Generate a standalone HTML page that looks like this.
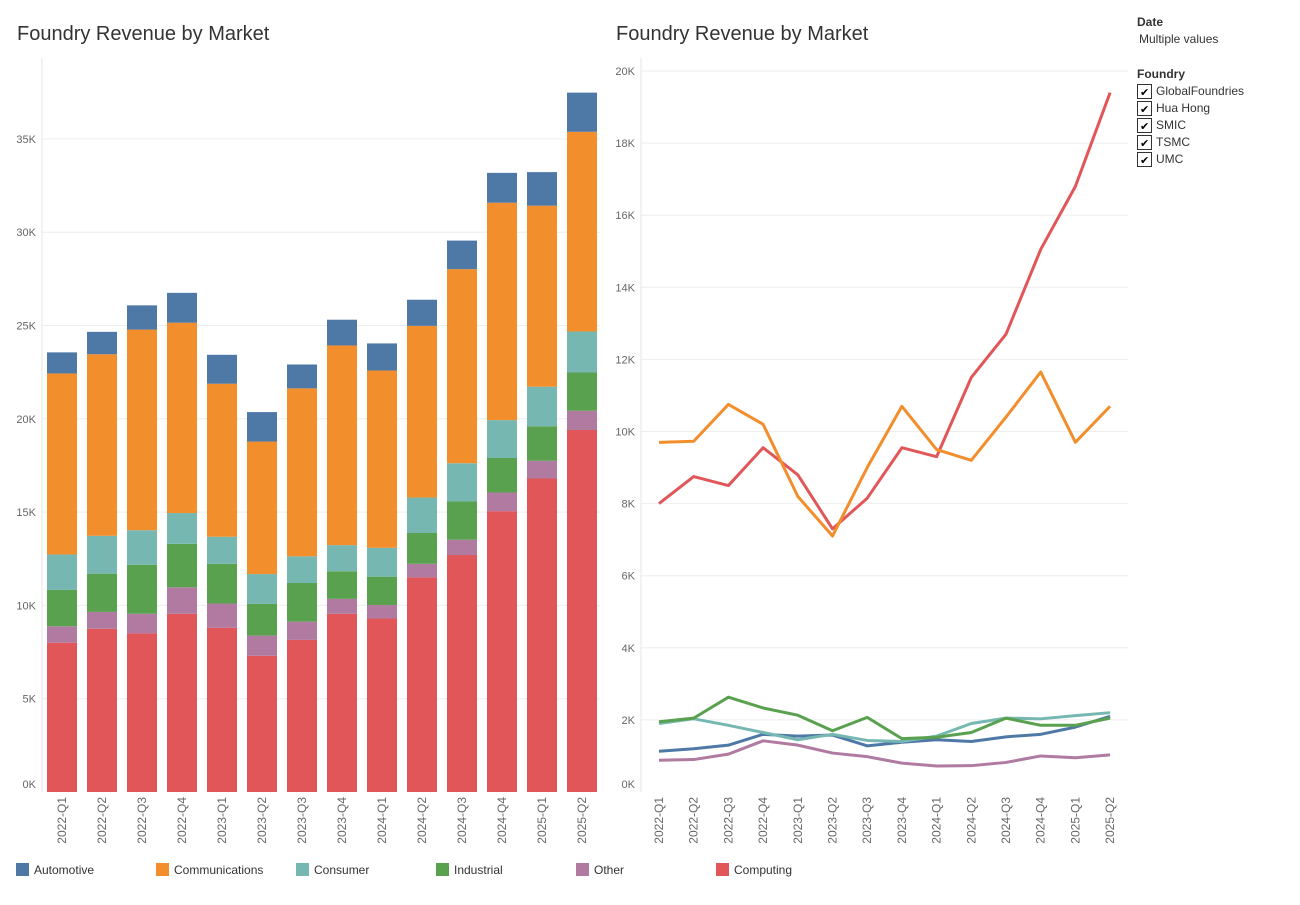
<!DOCTYPE html>
<html><head><meta charset="utf-8"><style>
body{margin:0;background:#fff;font-family:"Liberation Sans",sans-serif;}
svg text{font-family:"Liberation Sans",sans-serif;}
</style></head><body>
<svg id="c" width="1300" height="900" xmlns="http://www.w3.org/2000/svg">
<text x="17" y="40" font-size="20" fill="#333">Foundry Revenue by Market</text>
<text x="616" y="40" font-size="20" fill="#333">Foundry Revenue by Market</text>
<g>
<text x="1137" y="26" font-size="12" font-weight="bold" fill="#333">Date</text>
<text x="1139" y="43" font-size="12" fill="#333">Multiple values</text></g>
<text x="1137" y="78" font-size="12" font-weight="bold" fill="#333">Foundry</text>
<g id="left"></g><g id="right"></g><g id="filters"></g><g id="legend"></g>
</svg>
<script>
const quarters=["2022-Q1","2022-Q2","2022-Q3","2022-Q4","2023-Q1","2023-Q2","2023-Q3","2023-Q4","2024-Q1","2024-Q2","2024-Q3","2024-Q4","2025-Q1","2025-Q2"];
const computing=[8000,8750,8500,9550,8800,7300,8150,9550,9300,11500,12700,15050,16800,19400];
const other=[880,900,1050,1420,1300,1080,980,800,720,730,820,1000,950,1030];
const industrial=[1950,2050,2630,2330,2130,1700,2070,1480,1520,1650,2050,1850,1850,2050];
const consumer=[1900,2030,1850,1650,1450,1600,1430,1400,1550,1900,2050,2030,2120,2200];
const communications=[9700,9730,10750,10200,8200,7100,9000,10700,9500,9200,10400,11650,9700,10700];
const automotive=[1130,1200,1300,1600,1550,1580,1280,1380,1450,1400,1530,1600,1800,2100];
const leftTicks=[0,5000,10000,15000,20000,25000,30000,35000];
const rightTicks=[0,2000,4000,6000,8000,10000,12000,14000,16000,18000,20000];
const foundries=["GlobalFoundries","Hua Hong","SMIC","TSMC","UMC"];
const NS="http://www.w3.org/2000/svg";
function mk(t,a,p,txt){const e=document.createElementNS(NS,t);for(const k in a)e.setAttribute(k,a[k]);if(txt!==undefined)e.textContent=txt;p.appendChild(e);return e;}
const series=[
 {n:"Computing",d:computing,c:"#e15759"},
 {n:"Other",d:other,c:"#b07aa1"},
 {n:"Industrial",d:industrial,c:"#59a14f"},
 {n:"Consumer",d:consumer,c:"#76b7b2"},
 {n:"Communications",d:communications,c:"#f28e2b"},
 {n:"Automotive",d:automotive,c:"#4e79a7"}];
// left
const L=document.getElementById('left');
const ly=v=>792-v*93.3/5000, lx=i=>62+i*40;
leftTicks.forEach(t=>{const y=ly(t);
 if(t>0){const g=mk('line',{x1:42,x2:600,y1:y,y2:y,stroke:'#eee'},L);}
 const tx=mk('text',{x:36,y:t===0?y-4:y+4,'font-size':11,fill:'#666','text-anchor':'end'},L,(t/1000)+'K');
 });
mk('line',{x1:42,x2:42,y1:58,y2:792,stroke:'#e6e6e6'},L);
quarters.forEach((q,i)=>{let acc=0;
 series.forEach(s=>{const v=s.d[i];const r=mk('rect',{x:lx(i)-15,y:ly(acc+v),width:30,height:ly(acc)-ly(acc+v),fill:s.c},L);
  acc+=v;});
 const t=mk('text',{x:0,y:0,'font-size':12,fill:'#666','text-anchor':'end',transform:`translate(${lx(i)+4},797) rotate(-90)`},L,q);
 });
// right
const R=document.getElementById('right');
const ry=v=>792-v*0.03605, rx=i=>659+i*34.7;
rightTicks.forEach(t=>{const y=ry(t);
 if(t>0){const g=mk('line',{x1:641,x2:1128,y1:y,y2:y,stroke:'#eee'},R);}
 const tx=mk('text',{x:635,y:t===0?y-4:y+4,'font-size':11,fill:'#666','text-anchor':'end'},R,(t/1000)+'K');
 });
mk('line',{x1:641,x2:641,y1:58,y2:792,stroke:'#e6e6e6'},R);
quarters.forEach((q,i)=>{const t=mk('text',{x:0,y:0,'font-size':12,fill:'#666','text-anchor':'end',transform:`translate(${rx(i)+4},797) rotate(-90)`},R,q);
 });
[5,3,1,2,0,4].forEach(k=>{const s=series[k];
 const p=mk('polyline',{points:s.d.map((v,i)=>rx(i)+','+ry(v)).join(' '),fill:'none',stroke:s.c,'stroke-width':3,'stroke-linejoin':'round'},R);
 });
// filters
const F=document.getElementById('filters');
foundries.forEach((f,i)=>{const y=84+i*17;
 const g=mk('g',{},F);
 mk('rect',{x:1137.5,y:y+0.5,width:14,height:14,fill:'#fff',stroke:'#333'},g);
 mk('text',{x:1140,y:y+12,'font-size':11,fill:'#000'},g,'✔');
 mk('text',{x:1156,y:y+11,'font-size':12,fill:'#333'},g,f);});
// legend
const G=document.getElementById('legend');
[5,4,3,2,1,0].forEach((k,j)=>{const s=series[k];const x=16+j*140;
 const g=mk('g',{},G);
 mk('rect',{x:x,y:863,width:13,height:13,fill:s.c},g);
 mk('text',{x:x+18,y:874,'font-size':12,fill:'#333'},g,s.n);});
</script>
</body></html>
